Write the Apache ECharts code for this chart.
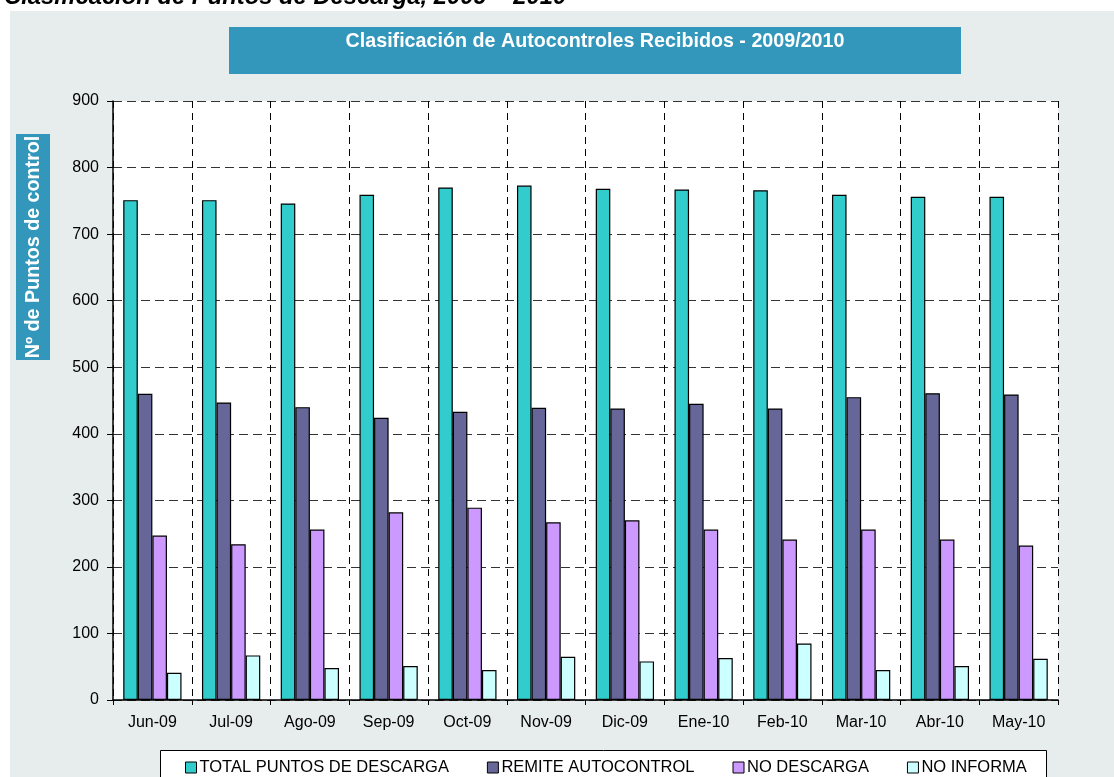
<!DOCTYPE html>
<html>
<head>
<meta charset="utf-8">
<script src="https://cdn.jsdelivr.net/npm/echarts@6/dist/echarts.min.js"></script>
<style>
html,body{margin:0;padding:0;background:#fff;}
#chart{width:1114px;height:777px;}
</style>
</head>
<body>
<div id="chart"></div>
<script>
const categories = ['Jun-09','Jul-09','Ago-09','Sep-09','Oct-09','Nov-09','Dic-09','Ene-10','Feb-10','Mar-10','Abr-10','May-10'];
const totalPuntos = [751, 751, 746, 759, 770, 773, 768, 767, 766, 759, 756, 756];
const remiteAutocontrol = [460, 447, 440, 424, 433, 439, 438, 445, 438, 455, 461, 459];
const noDescarga = [247, 234, 256, 282, 289, 267, 270, 256, 241, 256, 241, 232];
const noInforma = [41, 67, 48, 51, 45, 65, 58, 63, 85, 45, 51, 62];
const seriesNames = ['TOTAL PUNTOS DE DESCARGA','REMITE AUTOCONTROL','NO DESCARGA','NO INFORMA'];
const yTicks = {min: 0, max: 900, interval: 100};

const colors = ['#33CCCC','#666699','#CC99FF','#CCFFFF'];
const dataSets = [totalPuntos, remiteAutocontrol, noDescarga, noInforma];
const FONT = '"Liberation Sans", Arial, sans-serif';

const chart = echarts.init(document.getElementById('chart'), null, {renderer: 'canvas'});
chart.setOption({
  backgroundColor: '#ffffff',
  animation: false,
  textStyle: {fontFamily: FONT},
  graphic: [
    {type: 'rect', z: -100, silent: true, shape: {x: 10, y: 11, width: 1110, height: 770}, style: {fill: '#E7ECEC'}},
    {type: 'text', z: 100, x: 4, y: -15, style: {text: 'Clasificación de Puntos de Descarga, 2009 – 2010', font: 'italic bold 23.8px ' + FONT, fill: '#000'}},
    {type: 'rect', z: 10, shape: {x: 229, y: 27, width: 732, height: 47}, style: {fill: '#3297BB'}},
    {type: 'text', z: 11, x: 595, y: 42, style: {text: 'Clasificación de Autocontroles Recibidos - 2009/2010', font: 'bold 19.7px ' + FONT, fill: '#fff', textAlign: 'center', textVerticalAlign: 'middle'}},
    {type: 'rect', z: 10, shape: {x: 16, y: 134, width: 34, height: 226}, style: {fill: '#3297BB'}},
    {type: 'text', z: 11, x: 34, y: 247, rotation: Math.PI / 2, style: {text: 'Nº de Puntos de control', font: 'bold 19.7px ' + FONT, fill: '#fff', textAlign: 'center', textVerticalAlign: 'middle'}},
    {type: 'rect', z: 10, shape: {x: 160.5, y: 750.5, width: 886, height: 40}, style: {fill: '#fff', stroke: '#000', lineWidth: 1}}
  ],
  legend: {
    left: 180,
    top: 754,
    z: 20,
    itemWidth: 11,
    itemHeight: 11,
    itemGap: 38,
    icon: 'rect',
    itemStyle: {borderColor: '#000', borderWidth: 1},
    textStyle: {fontSize: 16.5, color: '#000', fontFamily: FONT, padding: [0, 0, 0, -2]},
    data: seriesNames
  },
  grid: {left: 113, right: 56, top: 101, bottom: 77, show: true, backgroundColor: '#fff', borderWidth: 0},
  xAxis: {
    type: 'category',
    data: categories,
    axisLine: {lineStyle: {color: '#000', width: 1.5}},
    axisTick: {show: true, length: 5, lineStyle: {color: '#000'}},
    axisLabel: {fontSize: 16, color: '#000', margin: 15, fontFamily: FONT},
    splitLine: {show: true, lineStyle: {color: '#000', type: [7, 5], width: 1}}
  },
  yAxis: {
    type: 'value',
    min: yTicks.min,
    max: yTicks.max,
    interval: yTicks.interval,
    axisLine: {show: true, lineStyle: {color: '#000', width: 1.5}},
    axisTick: {show: true, inside: false, length: 6, lineStyle: {color: '#000'}},
    axisLabel: {fontSize: 16, color: '#000', margin: 14, fontFamily: FONT},
    splitLine: {show: true, lineStyle: {color: '#333', type: [9, 5], width: 1}}
  },
  series: seriesNames.map((name, i) => ({
    name: name,
    type: 'bar',
    data: dataSets[i],
    barGap: '0%',
    barCategoryGap: '26%',
    itemStyle: {color: colors[i], borderColor: '#000', borderWidth: 1.2}
  }))
});
</script>
</body>
</html>
